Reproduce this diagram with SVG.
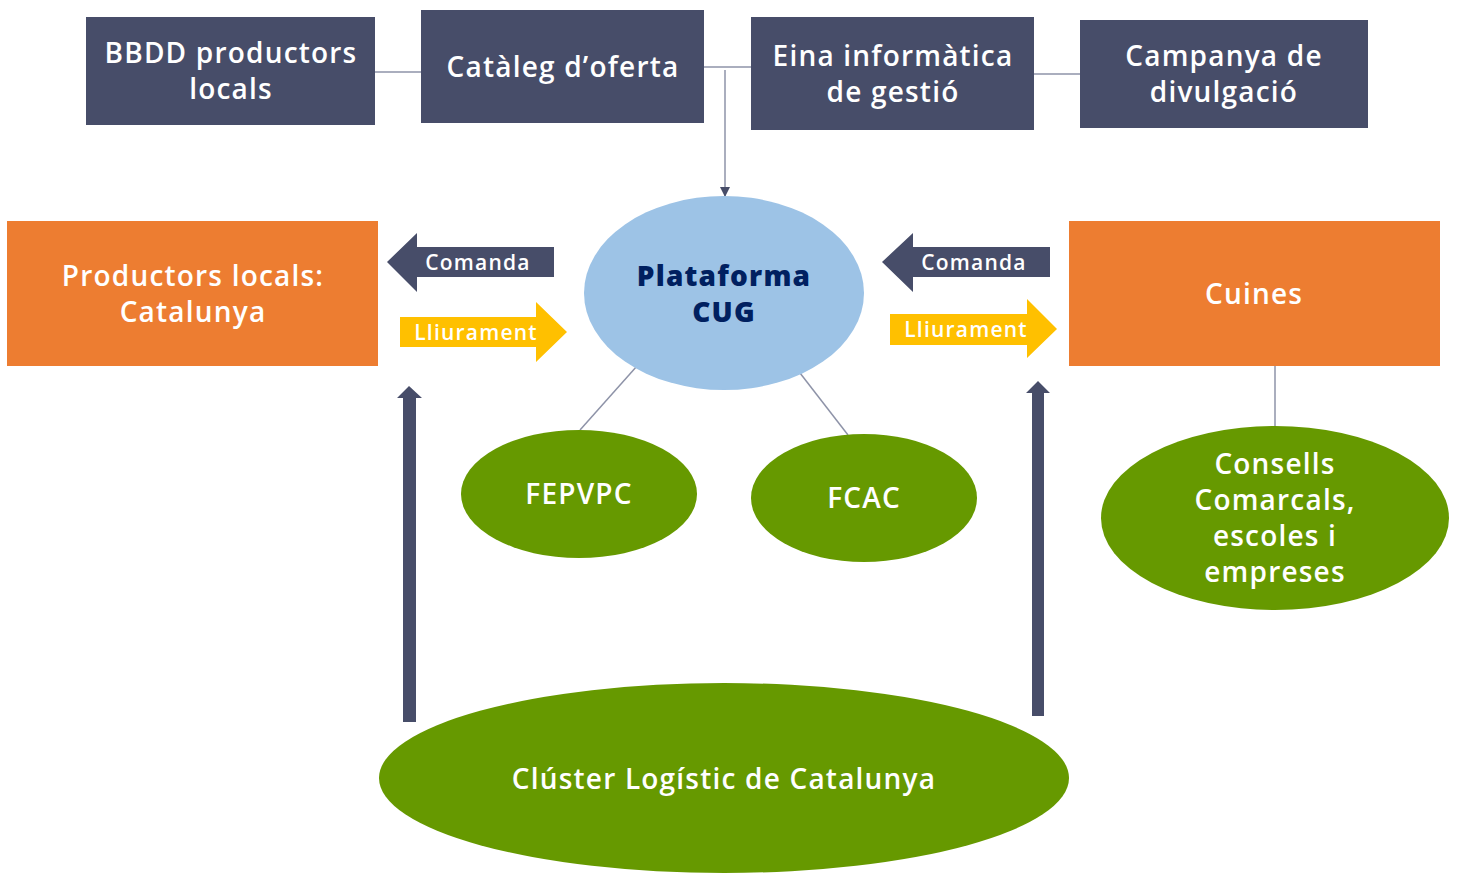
<svg xmlns="http://www.w3.org/2000/svg" width="1457" height="873" viewBox="0 0 1457 873">
<style>
.dark{fill:#474d69}
.orange{fill:#ed7d31}
.green{fill:#669900}
.blue{fill:#9dc3e6}
.yellow{fill:#ffc000}
.t{font-family:"Open Sans",Lato,"Liberation Sans",sans-serif;font-weight:600;fill:#fff;text-anchor:middle;letter-spacing:1.2px}
.big{font-size:28px}
.small{font-size:21px}
.ln{stroke:#8e93a8;stroke-width:1.5;fill:none}
</style>
<defs>
<marker id="ah" markerWidth="10" markerHeight="10" refX="9" refY="5" orient="auto" markerUnits="userSpaceOnUse">
<path d="M0,0 L10,5 L0,10 Z" fill="#474d69"/>
</marker>
</defs>
<rect width="1457" height="873" fill="#fff"/>
<g id="connectors">
<line class="ln" x1="375" y1="72" x2="421" y2="72"/>
<line class="ln" x1="704" y1="67" x2="751" y2="67"/>
<line class="ln" x1="1034" y1="74" x2="1080" y2="74"/>
<line class="ln" x1="725" y1="70" x2="725" y2="196" marker-end="url(#ah)"/>
<line class="ln" x1="637" y1="366" x2="580" y2="430"/>
<line class="ln" x1="800" y1="373" x2="848" y2="435"/>
<line class="ln" x1="1275" y1="366" x2="1275" y2="427"/>
<g id="arrow-comanda-left"><path class="dark" d="M554,247 L417,247 L417,233 L387,262 L417,292 L417,277 L554,277 Z"/><text class="t small" x="478" y="270">Comanda</text></g>
<g id="arrow-lliurament-left"><path class="yellow" d="M400,317 L536,317 L536,302 L567,332 L536,362 L536,347 L400,347 Z"/><text class="t small" x="476" y="340">Lliurament</text></g>
<g id="arrow-comanda-right"><path class="dark" d="M1050,247 L913,247 L913,233 L882,262 L913,292 L913,277 L1050,277 Z"/><text class="t small" x="974" y="270">Comanda</text></g>
<g id="arrow-lliurament-right"><path class="yellow" d="M890,314 L1027,314 L1027,299 L1057,329 L1027,358 L1027,345 L890,345 Z"/><text class="t small" x="966" y="337">Lliurament</text></g>
<path class="dark" d="M403,722 L416,722 L416,398 L422,398 L409,386 L397,398 L403,398 Z"/>
<path class="dark" d="M1032,716 L1044,716 L1044,393 L1050,393 L1038,381 L1026,393 L1032,393 Z"/>
</g>
<g id="bbdd"><rect class="dark" x="86" y="17" width="289" height="108"/><text class="t big" x="231" y="63">BBDD productors</text><text class="t big" x="231" y="99">locals</text></g>
<g id="cataleg"><rect class="dark" x="421" y="10" width="283" height="113"/><text class="t big" x="563" y="77">Catàleg d’oferta</text></g>
<g id="eina"><rect class="dark" x="751" y="17" width="283" height="113"/><text class="t big" x="893" y="66">Eina informàtica</text><text class="t big" x="893" y="102">de gestió</text></g>
<g id="campanya"><rect class="dark" x="1080" y="20" width="288" height="108"/><text class="t big" x="1224" y="66">Campanya de</text><text class="t big" x="1224" y="102">divulgació</text></g>
<g id="productors"><rect class="orange" x="7" y="221" width="371" height="145"/><text class="t big" x="193" y="286">Productors locals:</text><text class="t big" x="193" y="322">Catalunya</text></g>
<g id="cuines"><rect class="orange" x="1069" y="221" width="371" height="145"/><text class="t big" x="1254" y="304">Cuines</text></g>
<g id="plataforma"><ellipse class="blue" cx="724" cy="293" rx="140" ry="97"/><text class="t big" x="724" y="286" style="fill:#002060;font-weight:800">Plataforma</text><text class="t big" x="724" y="322" style="fill:#002060;font-weight:800">CUG</text></g>
<g id="fepvpc"><ellipse class="green" cx="579" cy="494" rx="118" ry="64"/><text class="t big" x="579" y="504">FEPVPC</text></g>
<g id="fcac"><ellipse class="green" cx="864" cy="498" rx="113" ry="64"/><text class="t big" x="864" y="508">FCAC</text></g>
<g id="consells"><ellipse class="green" cx="1275" cy="518" rx="174" ry="92"/><text class="t big" x="1275" y="474">Consells</text><text class="t big" x="1275" y="510">Comarcals,</text><text class="t big" x="1275" y="546">escoles i</text><text class="t big" x="1275" y="582">empreses</text></g>
<g id="cluster"><ellipse class="green" cx="724" cy="778" rx="345" ry="95"/><text class="t big" x="724" y="789">Clúster Logístic de Catalunya</text></g>
</svg>
